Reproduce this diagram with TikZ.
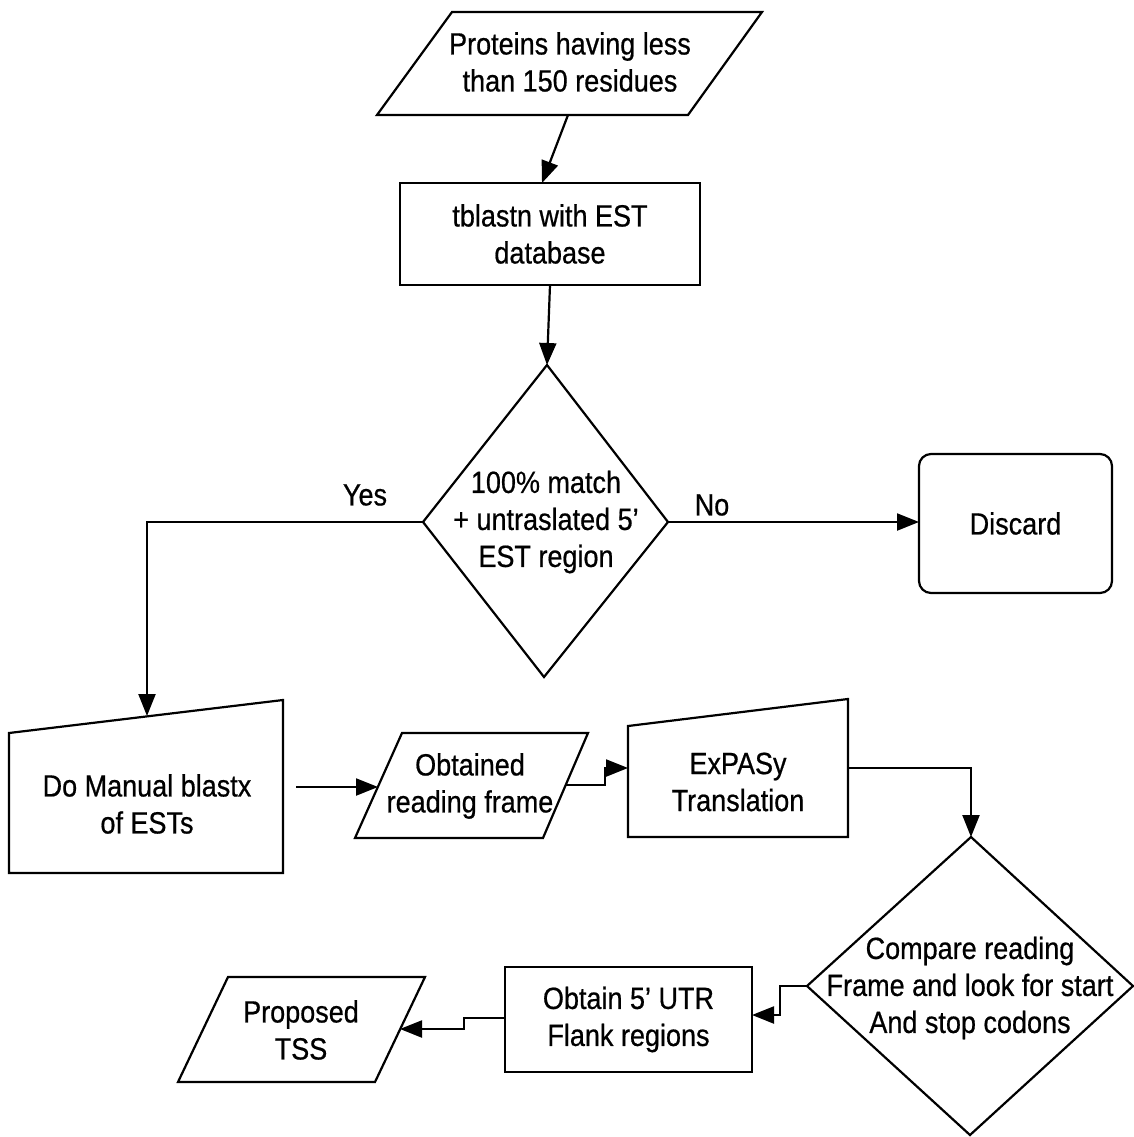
\documentclass[tikz,border=0pt]{standalone}
\usepackage{fontspec}
\usetikzlibrary{arrows.meta}
\newfontfamily\chartfont{Liberation Sans}[FakeStretch=0.88,FakeBold=0.6]
\begin{document}
\begin{tikzpicture}[x=0.5pt,y=-0.5pt,
  shapeline/.style={draw=black, fill=white, line width=1.1pt, line join=miter},
  lbl/.style={font=\chartfont\fontsize{15.35pt}{18.5pt}\selectfont, align=center, inner sep=0pt},
  procbox/.style={shapeline, rectangle, lbl},
  flow/.style={line width=1.1pt, -{Triangle[length=11pt,width=8.5pt]}},
]
\useasboundingbox (0,0) rectangle (1134,1137);
\fill[white] (0,0) rectangle (1134,1137);

% ---- input: proteins ----
\path[shapeline] (452,12) -- (762,12) -- (688,115) -- (377,115) -- cycle;
\node[lbl] (proteins) at (570,62) {Proteins having less\\than 150 residues};
\coordinate (protS) at (568,115);

% ---- tblastn search ----
\node[procbox, minimum width=150pt, minimum height=51pt] (tblastn) at (550,234) {tblastn with EST\\database};
\coordinate (tbN) at (542,183);
\coordinate (tbS) at (550,285);

% ---- decision: match ----
\coordinate (matchN) at (547,365);
\coordinate (matchE) at (668,522);
\coordinate (matchS) at (544,677);
\coordinate (matchW) at (423,522);
\path[shapeline] (matchN) -- (matchE) -- (matchS) -- (matchW) -- cycle;
\node[lbl] (match) at (546,522) {100\% match\\+ untraslated 5’\\EST region};

% ---- discard ----
\node[procbox, rounded corners=6pt, minimum width=96.5pt, minimum height=69.5pt] (discard) at (1015.5,523.5) {Discard};
\coordinate (discW) at (919,522);

% ---- manual blastx ----
\path[shapeline] (9,733) -- (283,700) -- (283,873) -- (9,873) -- cycle;
\node[lbl] (blastx) at (147,804) {Do Manual blastx\\of ESTs};
\coordinate (blastxN) at (147,716);
\coordinate (blastxE) at (296,787);

% ---- reading frame ----
\path[shapeline] (402,733) -- (588,733) -- (543,838) -- (355,838) -- cycle;
\node[lbl] (frame) at (470,786) {Obtained\\reading frame};
\coordinate (frameW) at (378,787);
\coordinate (frameE) at (566,785);
\coordinate (frameK) at (605,785);

% ---- ExPASy ----
\path[shapeline] (628,726) -- (848,699) -- (848,837) -- (628,837) -- cycle;
\node[lbl] (expasy) at (738,782) {ExPASy\\Translation};
\coordinate (expW) at (628,768);
\coordinate (expE) at (848,768);

% ---- decision: compare ----
\coordinate (cmpN) at (971,837);
\coordinate (cmpE) at (1133,986);
\coordinate (cmpS) at (970,1135);
\coordinate (cmpW) at (807,986);
\path[shapeline] (cmpN) -- (cmpE) -- (cmpS) -- (cmpW) -- cycle;
\node[lbl] (compare) at (970,988) {Compare reading\\Frame and look for start\\And stop codons};
\coordinate (cmpK) at (780,986);

% ---- flank regions ----
\node[procbox, minimum width=123.5pt, minimum height=52.5pt] (flank) at (628.5,1019.5) {Obtain 5’ UTR\\Flank regions};
\coordinate (flankE) at (752,1015);
\coordinate (flankW) at (505,1018);
\coordinate (flankK) at (464,1018);

% ---- output: TSS ----
\path[shapeline] (228,977) -- (425,977) -- (375,1082) -- (178,1082) -- cycle;
\node[lbl] (tss) at (301,1030) {Proposed\\TSS};
\coordinate (tssE) at (400,1029);

% ---- connectors ----
\draw[flow] (protS) -- (tbN);
\draw[flow] (tbS) -- (matchN);
\draw[flow] (matchW) -| (blastxN);
\draw[flow] (matchE) -- (discW);
\draw[flow] (blastxE) -- (frameW);
\draw[flow] (frameE) -- (frameK) |- (expW);
\draw[flow] (expE) -| (cmpN);
\draw[flow] (cmpW) -- (cmpK) |- (flankE);
\draw[flow] (flankW) -- (flankK) |- (tssE);

% ---- branch labels ----
\node[lbl] (yes) at (365,495) {Yes};
\node[lbl] (no) at (712,505) {No};
\end{tikzpicture}
\end{document}
